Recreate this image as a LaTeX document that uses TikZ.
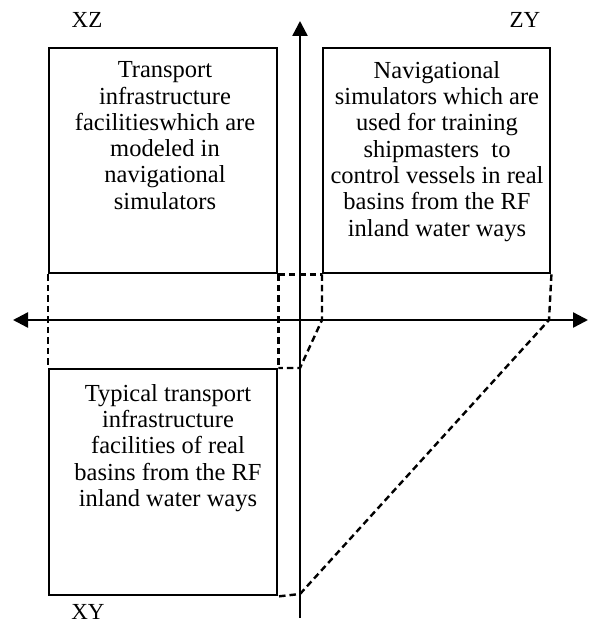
\documentclass[tikz,border=0pt]{standalone}
\usepackage{fontspec}
\setmainfont{Liberation Serif}
\usetikzlibrary{arrows.meta}
\begin{document}
\begin{tikzpicture}[x=1pt,y=-1pt,
  panel/.style={draw=black, line width=2.4pt, minimum width=228pt, minimum height=225pt, inner sep=0pt, anchor=north west},
  paneltext/.style={align=center, inner sep=0pt, anchor=north, font=\fontsize{24.5}{26.3}\selectfont},
  axis/.style={line width=2.4pt, -{Triangle[length=15pt,width=15pt]}},
  guide/.style={line width=2.4pt, dash pattern=on 6.5pt off 4pt},
  planelabel/.style={inner sep=0pt, anchor=base, font=\fontsize{23}{26}\selectfont}]
\useasboundingbox (0,0) rectangle (589,628);

% the three projection panels
\node[panel] (xz) at (48,47) {};
\node[panel, minimum width=227pt] (zy) at (322,47) {};
\node[panel, minimum height=226pt] (xy) at (48,368) {};

% axes
\coordinate (origin) at (300,320);
\coordinate (ztop) at (300,21);
\coordinate (ybot) at (300,618);
\coordinate (xleft) at (13,320);
\coordinate (xright) at (588,320);
\draw[line width=2.4pt] (ybot) -- (origin);
\draw[axis] (origin) -- (ztop);
\draw[axis] (origin) -- (xleft);
\draw[axis] (origin) -- (xright);

% dashed projection guides
\coordinate (m1) at (322,320);
\coordinate (m2) at (300,368);
\coordinate (m3) at (549,320);
\coordinate (m4) at (300,594);
\draw[guide] (xz.south east) -- (zy.south west);
\draw[guide] (xz.south west) -- (xy.north west);
\draw[guide] (xz.south east) -- (xy.north east);
\draw[guide] (zy.south west) -- (m1) -- (m2) -- (xy.north east);
\draw[guide] (zy.south east) -- (m3) -- (m4) -- (xy.south east);

% panel texts
\node[paneltext] (xztext) at (165,61.5) {Transport\\infrastructure\\facilitieswhich are\\modeled in\\navigational\\simulators};
\node[paneltext] (zytext) at (437,61) {Navigational\\simulators which are\\used for training\\shipmasters~ to\\control vessels in real\\basins from the RF\\inland water ways};
\node[paneltext] (xytext) at (168,384) {Typical transport\\infrastructure\\facilities of real\\basins from the RF\\inland water ways};

% plane labels
\node[planelabel] (lxz) at (87,28) {XZ};
\node[planelabel] (lzy) at (525,28) {ZY};
\node[planelabel] (lxy) at (88,619) {XY};
\end{tikzpicture}
\end{document}
